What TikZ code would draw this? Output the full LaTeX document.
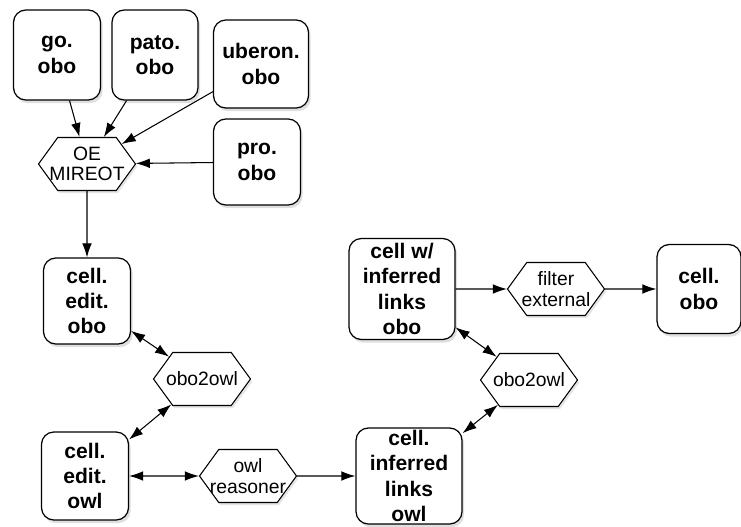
\documentclass[tikz,border=0pt]{standalone}
\usepackage{fontspec}
\setmainfont{Liberation Sans}
\usetikzlibrary{shapes.symbols,shadows,arrows.meta}

\tikzset{
  file/.style={draw, line width=0.7pt, rounded corners=7pt, fill=white,
    align=center, inner sep=1pt, font=\fontsize{12}{14.4}\selectfont\bfseries,
    drop shadow={shadow xshift=1.2pt, shadow yshift=-1.8pt, opacity=0.25}},
  tool/.style={draw, line width=0.6pt, signal, signal to=east and west,
    signal pointer angle=108, fill=white, align=center,
    inner xsep=-9pt, inner ysep=0pt,
    minimum width=1.94cm, minimum height=1.06cm,
    font=\fontsize{11}{11.5}\selectfont,
    drop shadow={shadow xshift=1pt, shadow yshift=-1.5pt, opacity=0.2}},
  flow/.style={-{Latex[length=8pt,width=5.5pt]}, line width=0.6pt},
  twoway/.style={{Latex[length=8pt,width=5.5pt]}-{Latex[length=8pt,width=5.5pt]}, line width=0.6pt}
}

\begin{document}
\begin{tikzpicture}[x=0.02cm, y=-0.02cm]
\useasboundingbox[fill=white] (0,0) rectangle (741,527);

% Source ontologies
\foreach \name/\x/\y/\w/\h/\txt in {go/57/55/1.74/1.8/{go.\\obo},
    pato/155/55/1.72/1.8/{pato.\\obo},
    uberon/261/64/1.9/1.76/{uberon.\\obo},
    pro/257/162/1.74/1.72/{pro.\\obo}} {
  \node[file, minimum width=\w cm, minimum height=\h cm] (\name) at (\x,\y) {\txt};
}

% Import step
\node[tool] (mireot) at (87,164) {OE\\MIREOT};
\foreach \src in {go,pato,uberon,pro} {
  \draw[flow] (\src) -- (mireot);
}

% Editors version
\node[file, minimum width=1.74cm, minimum height=1.72cm] (editobo) at (87,301) {cell.\\edit.\\obo};
\node[tool] (convleft) at (202,379) {obo2owl};
\node[file, minimum width=1.74cm, minimum height=1.76cm] (editowl) at (85,476) {cell.\\edit.\\owl};
\node[tool] (reasoner) at (248,476) {owl\\reasoner};

% Inferred version
\node[file, minimum width=2.12cm, minimum height=1.92cm] (infowl) at (409,476) {cell.\\inferred\\links\\owl};
\node[tool] (convright) at (529,380) {obo2owl};
\node[file, minimum width=2.12cm, minimum height=2.02cm] (infobo) at (402,289) {cell w/\\inferred\\links\\obo};
\node[tool] (filter) at (556,289) {filter\\external};
\node[file, minimum width=1.68cm, minimum height=1.78cm] (cellobo) at (699,289) {cell.\\obo};

% Connectors
\draw[flow] (mireot) -- (editobo);
\draw[twoway] (editobo) -- (convleft);
\draw[twoway] (convleft) -- (editowl);
\draw[twoway] (editowl) -- (reasoner);
\draw[flow] (reasoner) -- (infowl);
\draw[twoway] (infowl) -- (convright);
\draw[twoway] (convright) -- (infobo);
\draw[flow] (infobo) -- (filter);
\draw[flow] (filter) -- (cellobo);
\end{tikzpicture}
\end{document}
